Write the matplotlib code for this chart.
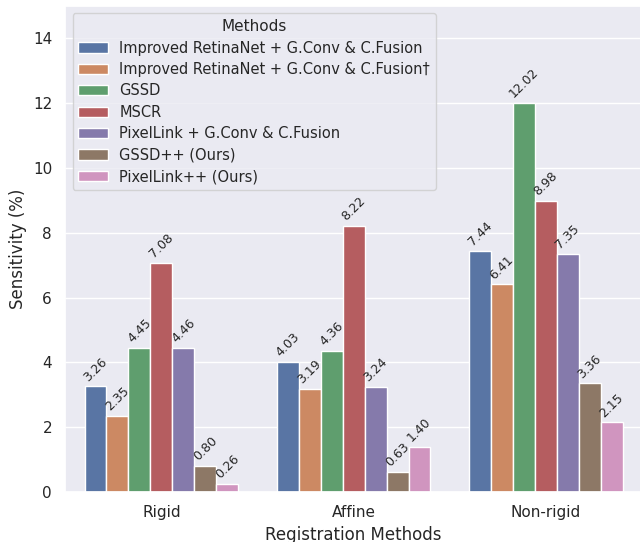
import matplotlib
matplotlib.use("Agg")
import matplotlib.pyplot as plt
import numpy as np
import pandas as pd
import seaborn as sns

# Dados do grafico
categorias = ['Rigid', 'Affine', 'Non-rigid']
metodos = ['Improved RetinaNet + G.Conv & C.Fusion',
           'Improved RetinaNet + G.Conv & C.Fusion\u2020',
           'GSSD',
           'MSCR',
           'PixelLink + G.Conv & C.Fusion',
           'GSSD++ (Ours)',
           'PixelLink++ (Ours)']
retinanet = [3.26, 4.03, 7.44]
retinanet_dagger = [2.35, 3.19, 6.41]
gssd = [4.45, 4.36, 12.02]
mscr = [7.08, 8.22, 8.98]
pixellink = [4.46, 3.24, 7.35]
gssd_pp = [0.80, 0.63, 3.36]
pixellink_pp = [0.26, 1.40, 2.15]

valores = [retinanet, retinanet_dagger, gssd, mscr, pixellink, gssd_pp, pixellink_pp]

linhas = []
for metodo, vals in zip(metodos, valores):
    for cat, v in zip(categorias, vals):
        linhas.append({'Registration Methods': cat, 'Methods': metodo, 'Sensitivity (%)': v})
df = pd.DataFrame(linhas)

sns.set_theme(style='darkgrid')

fig, ax = plt.subplots(figsize=(6.4, 5.42), dpi=100)
sns.barplot(data=df, x='Registration Methods', y='Sensitivity (%)', hue='Methods',
            palette='deep', ax=ax, edgecolor='white')

# Rotulos em cima das barras
for container in ax.containers:
    for barra in container:
        h = barra.get_height()
        x = barra.get_x() + barra.get_width() / 2
        ax.text(x, h + 0.08, f'{h:.2f}', ha='center', va='bottom',
                rotation=45, fontsize=9)

ax.set_xlim(-0.5, 2.5)
ax.set_ylim(0, 15)
ax.set_yticks([0, 2, 4, 6, 8, 10, 12, 14])
ax.legend(title='Methods', loc='upper left', fontsize=10.5, title_fontsize=11,
          handletextpad=0.8, labelspacing=0.44)

fig.subplots_adjust(left=0.102, right=1.003, top=0.989, bottom=0.092)
fig.savefig('out.png', dpi=100)
